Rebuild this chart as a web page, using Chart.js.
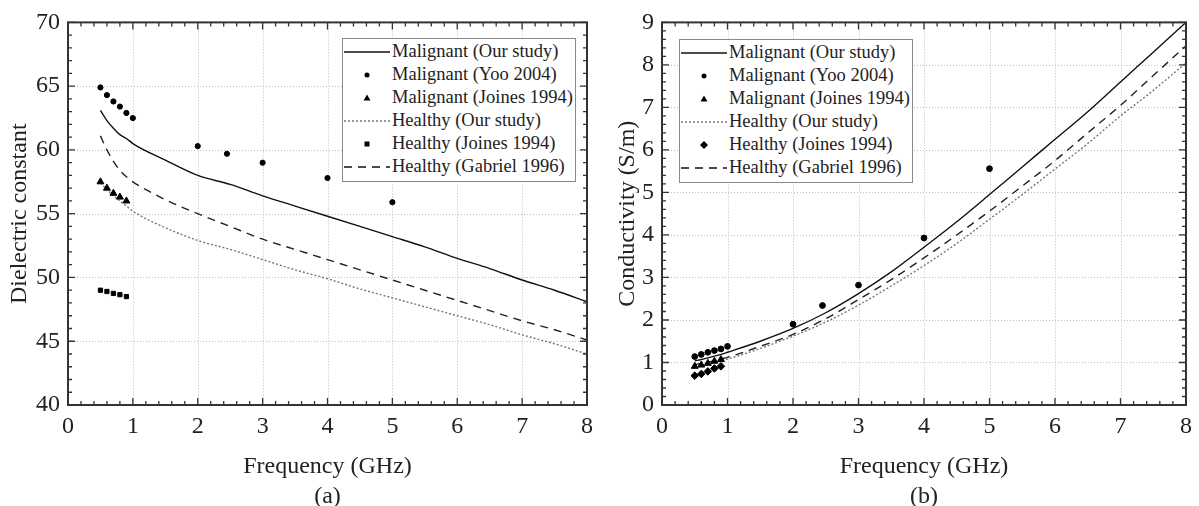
<!DOCTYPE html>
<html>
<head>
<meta charset="utf-8">
<script src="https://cdn.jsdelivr.net/npm/chart.js@4.4.1/dist/chart.umd.min.js"></script>
<style>
  body { margin: 0; background: #fff; }
  #wrap { position: relative; width: 1199px; height: 506px; overflow: hidden; }
  canvas { position: absolute; top: 0; }
  .legend {
    position: absolute; width: 232px; height: 141px; padding-top: 1px;
    border: 1px solid #8a8a8a; background: #fff;
    font-family: 'Liberation Serif', serif; font-size: 18.5px; color: #222;
  }
  .legend .row { height: 23px; line-height: 23px; display: flex; align-items: center; white-space: nowrap; }
  .legend svg { width: 48px; height: 23px; flex: none; margin-right: 1px; }
</style>
</head>
<body>
<div id="wrap">
  <canvas id="chartA" width="600" height="506" style="left:0"></canvas>
  <canvas id="chartB" width="599" height="506" style="left:600px"></canvas>
  <div class="legend" id="legA" style="left:342px; top:38px"></div>
  <div class="legend" id="legB" style="left:679px; top:39px"></div>
</div>
<script>
// Breast tissue dielectric properties: (a) dielectric constant, (b) conductivity

// -- Data --
const seriesNames = ['Malignant (Our study)', 'Malignant (Yoo 2004)', 'Malignant (Joines 1994)',
  'Healthy (Our study)', 'Healthy (Joines 1994)', 'Healthy (Gabriel 1996)'];

const xTicks = [0, 1, 2, 3, 4, 5, 6, 7, 8];
const epsTicks = [40, 45, 50, 55, 60, 65, 70];
const sigmaTicks = [0, 1, 2, 3, 4, 5, 6, 7, 8, 9];

// model curves (GHz)
const freqCurve = [0.5, 0.6, 0.7, 0.8, 0.9, 1, 1.5, 2, 2.5, 3, 3.5, 4, 4.5, 5, 5.5, 6, 6.5, 7, 7.5, 8];
const epsMalOur = [63.1, 62.3, 61.7, 61.2, 60.9, 60.5, 59.2, 58.0, 57.3, 56.4, 55.6, 54.8, 54.0, 53.2, 52.4, 51.5, 50.7, 49.8, 49.0, 48.1];
const epsHeaOur = [57.4, 56.9, 56.4, 56.0, 55.6, 55.2, 53.9, 52.9, 52.2, 51.4, 50.6, 49.9, 49.1, 48.4, 47.7, 47.0, 46.3, 45.5, 44.8, 44.0];
const epsHeaGab = [61.1, 60.0, 59.1, 58.4, 57.9, 57.5, 56.1, 55.0, 54.0, 53.0, 52.2, 51.4, 50.6, 49.8, 49.0, 48.2, 47.4, 46.6, 45.9, 45.1];
const sigMalOur = [1.04, 1.07, 1.11, 1.15, 1.19, 1.24, 1.50, 1.80, 2.17, 2.62, 3.13, 3.71, 4.31, 4.95, 5.60, 6.25, 6.90, 7.60, 8.30, 9.00];
const sigHeaOur = [0.90, 0.93, 0.96, 1.00, 1.04, 1.08, 1.33, 1.62, 1.95, 2.35, 2.80, 3.28, 3.80, 4.37, 4.95, 5.55, 6.15, 6.80, 7.40, 8.05];
const sigHeaGab = [0.95, 0.98, 1.01, 1.04, 1.08, 1.12, 1.38, 1.66, 2.03, 2.48, 2.95, 3.46, 4.00, 4.56, 5.15, 5.75, 6.40, 7.05, 7.75, 8.45];

// measured points
const yooFreq = [0.5, 0.6, 0.7, 0.8, 0.9, 1.0, 2, 2.45, 3, 4, 5];
const epsYoo = [64.9, 64.3, 63.8, 63.4, 62.9, 62.5, 60.3, 59.7, 59.0, 57.8, 55.9];
const sigYoo = [1.14, 1.19, 1.24, 1.28, 1.32, 1.38, 1.90, 2.34, 2.82, 3.93, 5.56];
const joinesFreq = [0.5, 0.6, 0.7, 0.8, 0.9];
const epsJoinesMal = [57.5, 57.0, 56.6, 56.3, 56.0];
const epsJoinesHea = [49.0, 48.9, 48.75, 48.65, 48.5];
const sigJoinesMal = [0.91, 0.94, 0.98, 1.03, 1.07];
const sigJoinesHea = [0.69, 0.73, 0.79, 0.86, 0.91];

// -- Helpers --
const pts = (xs, ys) => xs.map((x, i) => ({ x: x, y: ys[i] }));

Chart.defaults.font.family = "'Liberation Serif', serif";
Chart.defaults.color = '#222';

const SOLID = [], DOTTED = [2, 2], DASHED = [8, 6];

function lineSet(label, data, dash, color) {
  return {
    label, data, showLine: true, pointRadius: 0, borderColor: color, borderWidth: 1.4,
    borderDash: dash, cubicInterpolationMode: 'monotone', fill: false
  };
}
function markSet(label, data, style, r) {
  return {
    label, data, showLine: false, pointStyle: style, pointRadius: r,
    backgroundColor: '#000', borderColor: '#000', borderWidth: 1
  };
}

// frame, dotted grid and inward ticks drawn from the chart's own scales
const frameTicks = {
  id: 'frameTicks',
  beforeDatasetsDraw(chart, args, opts) {
    const { ctx, chartArea: a, scales: { x, y } } = chart;
    ctx.save();
    ctx.strokeStyle = '#bdbdbd';
    ctx.lineWidth = 1;
    ctx.setLineDash([1, 2]);
    ctx.beginPath();
    x.ticks.forEach(t => {
      const px = Math.round(x.getPixelForValue(t.value)) + 0.5;
      if (px > a.left + 2 && px < a.right - 2) { ctx.moveTo(px, a.top); ctx.lineTo(px, a.bottom); }
    });
    y.ticks.forEach(t => {
      const py = Math.round(y.getPixelForValue(t.value)) + 0.5;
      if (py > a.top + 2 && py < a.bottom - 2) { ctx.moveTo(a.left, py); ctx.lineTo(a.right, py); }
    });
    ctx.stroke();
    ctx.restore();
  },
  afterDatasetsDraw(chart, args, opts) {
    const { ctx, chartArea: a, scales: { x, y } } = chart;
    ctx.save();
    ctx.strokeStyle = '#333';
    ctx.lineWidth = 1.3;
    ctx.beginPath();
    const nx = Math.round((x.max - x.min) / opts.minorX);
    for (let i = 0; i <= nx; i++) {
      const v = x.min + i * opts.minorX;
      const len = (i % opts.perMajorX === 0) ? 7 : 4;
      const px = x.getPixelForValue(v);
      ctx.moveTo(px, a.bottom); ctx.lineTo(px, a.bottom - len);
      ctx.moveTo(px, a.top); ctx.lineTo(px, a.top + len);
    }
    const ny = Math.round((y.max - y.min) / opts.minorY);
    for (let i = 0; i <= ny; i++) {
      const v = y.min + i * opts.minorY;
      const len = (i % opts.perMajorY === 0) ? 7 : 4;
      const py = y.getPixelForValue(v);
      ctx.moveTo(a.left, py); ctx.lineTo(a.left + len, py);
      ctx.moveTo(a.right, py); ctx.lineTo(a.right - len, py);
    }
    ctx.stroke();
    ctx.lineWidth = 2;
    ctx.strokeRect(a.left, a.top, a.right - a.left, a.bottom - a.top);
    ctx.restore();
  }
};

function makeChart(canvasId, datasets, o) {
  return new Chart(document.getElementById(canvasId), {
    type: 'scatter',
    data: { datasets },
    plugins: [frameTicks],
    options: {
      responsive: false,
      animation: false,
      layout: { padding: { top: 20, right: o.padRight, left: 0, bottom: 0 } },
      plugins: {
        legend: { display: false },
        tooltip: { enabled: false },
        frameTicks: o.minor
      },
      scales: {
        x: {
          type: 'linear', min: 0, max: 8,
          afterBuildTicks: s => { s.ticks = xTicks.map(v => ({ value: v })); },
          ticks: { font: { size: 24 }, padding: 7, autoSkip: false, maxRotation: 0 },
          grid: { display: false, drawTicks: false },
          border: { display: false },
          title: {
            display: true, text: ['Frequency (GHz)', o.tag],
            font: { size: 24, lineHeight: '30px' }, padding: { top: 0, bottom: -6 }
          },
          afterFit: s => { s.height = 101; }
        },
        y: {
          type: 'linear', min: o.yTicks[0], max: o.yTicks[o.yTicks.length - 1],
          afterBuildTicks: s => { s.ticks = o.yTicks.map(v => ({ value: v })); },
          ticks: { font: { size: 24 }, padding: 8, autoSkip: false },
          grid: { display: false, drawTicks: false },
          border: { display: false },
          title: {
            display: true, text: o.yTitle, font: { size: 24 },
            padding: { top: o.titlePad, bottom: 0 }
          },
          afterFit: s => { s.width = o.yWidth; }
        }
      }
    }
  });
}

// -- (a) Dielectric constant --
makeChart('chartA', [
  markSet(seriesNames[1], pts(yooFreq, epsYoo), 'circle', 2.6),
  markSet(seriesNames[2], pts(joinesFreq, epsJoinesMal), 'triangle', 4),
  markSet(seriesNames[4], pts(joinesFreq, epsJoinesHea), 'rect', 3),
  lineSet(seriesNames[0], pts(freqCurve, epsMalOur), SOLID, '#111'),
  lineSet(seriesNames[3], pts(freqCurve, epsHeaOur), DOTTED, '#777'),
  lineSet(seriesNames[5], pts(freqCurve, epsHeaGab), DASHED, '#222')
], {
  padRight: 7, yWidth: 68, titlePad: 5, yTicks: epsTicks, tag: '(a)',
  yTitle: 'Dielectric constant',
  minor: { minorX: 0.2, perMajorX: 5, minorY: 1, perMajorY: 5 }
});

// -- (b) Conductivity --
makeChart('chartB', [
  markSet(seriesNames[1], pts(yooFreq, sigYoo), 'circle', 2.9),
  markSet(seriesNames[2], pts(joinesFreq, sigJoinesMal), 'triangle', 4),
  markSet(seriesNames[4], pts(joinesFreq, sigJoinesHea), 'rectRot', 3.8),
  lineSet(seriesNames[0], pts(freqCurve, sigMalOur), SOLID, '#111'),
  lineSet(seriesNames[3], pts(freqCurve, sigHeaOur), DOTTED, '#777'),
  lineSet(seriesNames[5], pts(freqCurve, sigHeaGab), DASHED, '#222')
], {
  padRight: 12, yWidth: 62, titlePad: 13, yTicks: sigmaTicks, tag: '(b)',
  yTitle: 'Conductivity (S/m)',
  minor: { minorX: 0.2, perMajorX: 5, minorY: 0.2, perMajorY: 5 }
});

// -- Legends --
const SVGNS = 'http://www.w3.org/2000/svg';
function sample(kind) {
  const svg = document.createElementNS(SVGNS, 'svg');
  let el;
  if (kind === 'solid' || kind === 'dotted' || kind === 'dashed') {
    el = document.createElementNS(SVGNS, 'line');
    el.setAttribute('x1', 1); el.setAttribute('x2', 47);
    el.setAttribute('y1', 12); el.setAttribute('y2', 12);
    el.setAttribute('stroke', kind === 'dotted' ? '#777' : '#111');
    el.setAttribute('stroke-width', 1.4);
    if (kind === 'dotted') el.setAttribute('stroke-dasharray', '2 2');
    if (kind === 'dashed') el.setAttribute('stroke-dasharray', '8 6');
  } else if (kind === 'circle') {
    el = document.createElementNS(SVGNS, 'circle');
    el.setAttribute('cx', 24); el.setAttribute('cy', 12); el.setAttribute('r', 2.5);
  } else if (kind === 'triangle') {
    el = document.createElementNS(SVGNS, 'polygon');
    el.setAttribute('points', '24,8.5 27.5,14.5 20.5,14.5');
  } else if (kind === 'rect') {
    el = document.createElementNS(SVGNS, 'rect');
    el.setAttribute('x', 21.5); el.setAttribute('y', 9.5); el.setAttribute('width', 5); el.setAttribute('height', 5);
  } else {
    el = document.createElementNS(SVGNS, 'polygon');
    el.setAttribute('points', '24,8 28,12 24,16 20,12');
  }
  if (!el.getAttribute('stroke')) el.setAttribute('fill', '#000');
  svg.appendChild(el);
  return svg;
}
function buildLegend(id, kinds) {
  const box = document.getElementById(id);
  seriesNames.forEach((name, i) => {
    const row = document.createElement('div');
    row.className = 'row';
    row.appendChild(sample(kinds[i]));
    const span = document.createElement('span');
    span.textContent = name;
    row.appendChild(span);
    box.appendChild(row);
  });
}
buildLegend('legA', ['solid', 'circle', 'triangle', 'dotted', 'rect', 'dashed']);
buildLegend('legB', ['solid', 'circle', 'triangle', 'dotted', 'diamond', 'dashed']);
</script>
</body>
</html>
